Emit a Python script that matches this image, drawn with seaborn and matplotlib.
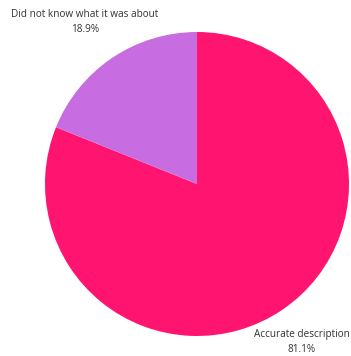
import matplotlib
matplotlib.use("Agg")
import matplotlib.pyplot as plt
import seaborn as sns

# data
labels = ["Accurate description", "Did not know what it was about"]
shares = [81.1, 18.9]
colors = ["#ff1470", "#c86ce2"]

sns.set_theme(style="white")
plt.rcParams["font.family"] = ["Open Sans", "DejaVu Sans"]

fig = plt.figure(figsize=(3.51, 3.56), dpi=100)
# pie centre at (197, 184) px, radius 152 px
ax = fig.add_axes([45 / 351, 20 / 356, 304 / 351, 304 / 356])
ax.pie(shares, colors=colors, startangle=90, counterclock=False,
       radius=1, wedgeprops=dict(linewidth=0))
ax.set_xlim(-1, 1)
ax.set_ylim(-1, 1)
ax.set_aspect("auto")
ax.axis("off")

# labels placed in pixel coords like the original
label_pos = {"Accurate description": (302, 342), "Did not know what it was about": (85, 22)}
for lab, val in zip(labels, shares):
    x, y = label_pos[lab]
    fig.text(x / 351, 1 - y / 356, f"{lab}\n{val}%", ha="center", va="center",
             fontsize=7.2, color="#333333", linespacing=1.45)

fig.savefig("out.png", dpi=100)
